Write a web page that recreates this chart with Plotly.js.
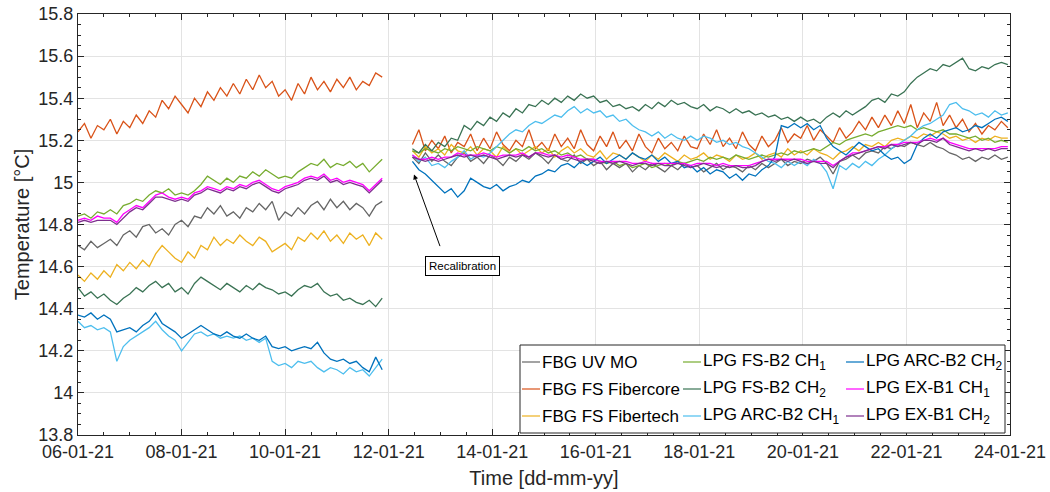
<!DOCTYPE html>
<html>
<head>
<meta charset="utf-8">
<script src="https://cdn.plot.ly/plotly-3.0.1.min.js"></script>
<style>html,body{margin:0;padding:0;background:#fff;}#chart{width:1050px;height:492px;}</style>
</head>
<body>
<div id="chart"></div>
<script>
// Sampling: left segment starts 06-01-21 00:00, right segment starts 12-01-21 11:00, 3-hour step
const leftStart = '2021-01-06T00:00:00Z';
const rightStart = '2021-01-12T11:00:00Z';
const stepHours = 3;
const gapTime = '2021-01-12 05:00';

const seriesNames = ['FBG UV MO','FBG FS Fibercore','FBG FS Fibertech','LPG FS-B2 CH<sub>1</sub>','LPG FS-B2 CH<sub>2</sub>','LPG ARC-B2 CH<sub>1</sub>','LPG ARC-B2 CH<sub>2</sub>','LPG EX-B1 CH<sub>1</sub>','LPG EX-B1 CH<sub>2</sub>'];
const seriesColors = ['#666666','#D95319','#EDB120','#77AC30','#3A7354','#4DBEEE','#0072BD','#FF00FF','#7E2F8E'];

// FBG UV MO
const uvMoL = [14.70,14.68,14.72,14.69,14.71,14.73,14.70,14.75, 14.77,14.74,14.79,14.80,14.76,14.78,14.75,14.80,
  14.82,14.79,14.84,14.83,14.88,14.85,14.89,14.84, 14.86,14.83,14.88,14.86,14.90,14.87,14.91,14.82,
  14.86,14.84,14.88,14.85,14.89,14.91,14.87,14.92, 14.88,14.91,14.87,14.90,14.88,14.84,14.89,14.91];
const uvMoR = [15.12,15.09,15.14,15.10, 15.13,15.10,15.08,15.12, 15.14,15.10,15.12,15.09, 15.13,15.11,15.08,15.12,
  15.10,15.13,15.11,15.14, 15.12,15.09,15.13,15.11, 15.10,15.13,15.09,15.11, 15.08,15.10,15.06,15.09,
  15.07,15.09,15.05,15.08, 15.06,15.09,15.07,15.05, 15.08,15.06,15.09,15.07, 15.08,15.05,15.07,15.09,
  15.06,15.08,15.07,15.05, 15.08,15.06,15.09,15.07, 15.09,15.11,15.08,15.10, 15.09,15.11,15.10,15.12,
  15.09,15.04,15.10,15.11, 15.13,15.11,15.14,15.15, 15.14,15.17,15.16,15.18, 15.17,15.19,15.18,15.17,
  15.19,15.17,15.16,15.14, 15.13,15.11,15.12,15.10, 15.12,15.11,15.13,15.11, 15.12];

// FBG FS Fibercore
const fibercoreL = [15.24,15.28,15.21,15.27,15.25,15.30,15.23,15.29, 15.26,15.32,15.28,15.34,15.31,15.39,15.35,15.41,
  15.37,15.33,15.40,15.36,15.43,15.39,15.45,15.41, 15.47,15.42,15.49,15.44,15.51,15.45,15.48,15.41,
  15.44,15.39,15.47,15.42,15.50,15.44,15.48,15.43, 15.49,15.45,15.50,15.44,15.48,15.46,15.52,15.50];
const fibercoreR = [15.18,15.25,15.15,15.20, 15.16,15.22,15.14,15.19, 15.17,15.23,15.15,15.21, 15.16,15.24,15.18,15.15,
  15.20,15.17,15.25,15.16, 15.19,15.15,15.23,15.17, 15.21,15.16,15.25,15.18, 15.15,15.22,15.17,15.24,
  15.16,15.20,15.15,15.23, 15.17,15.14,15.21,15.16, 15.19,15.15,15.22,15.17, 15.16,15.23,15.18,15.25,
  15.17,15.21,15.16,15.24, 15.18,15.15,15.22,15.17, 15.20,15.26,15.19,15.23, 15.21,15.27,15.20,15.25,
  15.22,15.19,15.26,15.21, 15.24,15.29,15.25,15.31, 15.26,15.32,15.27,15.34, 15.28,15.37,15.26,15.33,
  15.29,15.38,15.27,15.32, 15.26,15.30,15.24,15.28, 15.23,15.27,15.25,15.29, 15.26];

// FBG FS Fibertech
const fibertechL = [14.56,14.53,14.57,14.54,14.58,14.55,14.61,14.58, 14.62,14.59,14.63,14.60,14.66,14.70,14.67,14.64,
  14.62,14.67,14.64,14.70,14.68,14.74,14.70,14.73, 14.71,14.75,14.72,14.70,14.74,14.72,14.67,14.69,
  14.71,14.68,14.74,14.72,14.76,14.73,14.77,14.72, 14.75,14.71,14.76,14.73,14.75,14.70,14.76,14.73];
const fibertechR = [15.15,15.12,15.17,15.14, 15.16,15.13,15.18,15.15, 15.14,15.17,15.13,15.16, 15.15,15.12,15.17,15.14,
  15.16,15.13,15.15,15.17, 15.14,15.16,15.12,15.15, 15.17,15.14,15.16,15.13, 15.12,15.15,15.11,15.14,
  15.13,15.11,15.14,15.12, 15.10,15.13,15.11,15.14, 15.12,15.10,15.13,15.11, 15.12,15.14,15.11,15.13,
  15.12,15.10,15.13,15.11, 15.12,15.14,15.11,15.13, 15.14,15.12,15.16,15.13, 15.15,15.13,15.16,15.14,
  15.13,15.11,15.14,15.15, 15.17,15.15,15.18,15.17, 15.19,15.17,15.20,15.21, 15.20,15.22,15.21,15.23,
  15.22,15.24,15.23,15.21, 15.22,15.20,15.21,15.19, 15.21,15.20,15.22,15.21, 15.21];

// LPG FS-B2 CH1
const fsB2Ch1L = [14.84,14.85,14.83,14.86,14.85,14.87,14.85,14.89, 14.90,14.92,14.91,14.94,14.96,14.95,14.97,14.94,
  14.95,14.94,14.96,14.99,15.03,15.01,14.99,15.02, 15.00,15.03,15.02,15.05,15.03,15.06,15.04,15.02,
  15.03,15.02,15.05,15.07,15.09,15.08,15.11,15.07, 15.09,15.08,15.10,15.07,15.09,15.05,15.08,15.11];
const fsB2Ch1R = [15.15,15.14,15.16,15.15, 15.14,15.16,15.15,15.17, 15.16,15.15,15.17,15.16, 15.15,15.17,15.16,15.14,
  15.16,15.15,15.17,15.15, 15.16,15.14,15.15,15.13, 15.14,15.12,15.13,15.11, 15.11,15.10,15.09,15.10,
  15.08,15.09,15.07,15.08, 15.09,15.07,15.08,15.09, 15.08,15.10,15.09,15.10, 15.11,15.10,15.12,15.11,
  15.12,15.11,15.13,15.12, 15.11,15.12,15.13,15.12, 15.13,15.14,15.13,15.15, 15.14,15.15,15.16,15.15,
  15.17,15.19,15.18,15.20, 15.21,15.22,15.23,15.22, 15.24,15.25,15.26,15.27, 15.26,15.27,15.25,15.26,
  15.25,15.24,15.25,15.23, 15.23,15.22,15.21,15.22, 15.20,15.21,15.19,15.20, 15.19];

// LPG FS-B2 CH2
const fsB2Ch2L = [14.50,14.46,14.48,14.45,14.47,14.44,14.42,14.45, 14.47,14.50,14.48,14.51,14.53,14.50,14.52,14.48,
  14.50,14.47,14.52,14.55,14.53,14.51,14.49,14.52, 14.50,14.48,14.51,14.49,14.52,14.50,14.49,14.47,
  14.48,14.46,14.49,14.51,14.50,14.52,14.48,14.46, 14.47,14.44,14.45,14.43,14.42,14.44,14.41,14.45];
const fsB2Ch2R = [15.16,15.14,15.18,15.15, 15.19,15.17,15.21,15.20, 15.27,15.25,15.29,15.27, 15.31,15.29,15.33,15.31,
  15.35,15.33,15.37,15.36, 15.39,15.37,15.40,15.38, 15.41,15.39,15.42,15.40, 15.41,15.38,15.39,15.36,
  15.37,15.35,15.36,15.34, 15.37,15.35,15.38,15.36, 15.39,15.37,15.38,15.36, 15.35,15.37,15.34,15.36,
  15.35,15.33,15.35,15.33, 15.34,15.32,15.33,15.31, 15.32,15.30,15.31,15.29, 15.31,15.29,15.30,15.28,
  15.31,15.33,15.31,15.34, 15.32,15.34,15.36,15.39, 15.40,15.38,15.42,15.41, 15.43,15.47,15.50,15.52,
  15.54,15.53,15.56,15.55, 15.57,15.59,15.54,15.53, 15.55,15.54,15.56,15.57, 15.56];

// LPG ARC-B2 CH1
const arcB2Ch1L = [14.34,14.31,14.32,14.30,14.31,14.29,14.15,14.22, 14.25,14.27,14.29,14.31,14.34,14.30,14.27,14.25,
  14.20,14.24,14.28,14.29,14.27,14.28,14.26,14.27, 14.26,14.27,14.25,14.26,14.24,14.26,14.15,14.13,
  14.14,14.12,14.15,14.14,14.15,14.12,14.10,14.12, 14.11,14.09,14.12,14.10,14.11,14.08,14.12,14.16];
const arcB2Ch1R = [15.13,15.10,15.12,15.08, 15.09,15.07,15.10,15.12, 15.15,15.11,15.13,15.12, 15.14,15.17,15.20,15.23,
  15.25,15.24,15.27,15.29, 15.28,15.30,15.32,15.31, 15.34,15.36,15.33,15.35, 15.33,15.34,15.31,15.32,
  15.29,15.30,15.27,15.25, 15.24,15.22,15.24,15.21, 15.23,15.21,15.20,15.22, 15.20,15.22,15.21,15.19,
  15.20,15.18,15.19,15.17, 15.16,15.14,15.12,15.10, 15.09,15.07,15.10,15.08, 15.10,15.08,15.11,15.09,
  15.05,14.97,15.08,15.06, 15.09,15.07,15.10,15.08, 15.11,15.13,15.16,15.18, 15.20,15.22,15.25,15.27,
  15.28,15.30,15.32,15.37, 15.38,15.35,15.34,15.32, 15.33,15.31,15.34,15.32, 15.33];

// LPG ARC-B2 CH2
const arcB2Ch2L = [14.37,14.36,14.38,14.35,14.37,14.35,14.29,14.30, 14.31,14.29,14.32,14.34,14.38,14.33,14.31,14.29,
  14.26,14.28,14.30,14.32,14.30,14.28,14.27,14.29, 14.27,14.26,14.28,14.26,14.25,14.27,14.22,14.21,
  14.22,14.20,14.21,14.22,14.21,14.24,14.19,14.16, 14.15,14.16,14.14,14.15,14.12,14.10,14.17,14.11];
const arcB2Ch2R = [15.10,15.06,15.04,15.01, 14.98,14.95,14.97,14.93, 14.96,15.02,15.00,14.98, 14.97,14.99,14.96,14.98,
  14.99,15.01,15.00,15.03, 15.04,15.06,15.05,15.08, 15.09,15.07,15.10,15.08, 15.10,15.12,15.09,15.11,
  15.13,15.11,15.14,15.12, 15.11,15.13,15.10,15.12, 15.09,15.10,15.07,15.08, 15.05,15.07,15.04,15.06,
  15.05,15.02,15.04,15.01, 15.04,15.03,15.06,15.08, 15.12,15.27,15.26,15.28, 15.26,15.28,15.25,15.27,
  15.21,15.17,15.15,15.13, 15.16,15.19,15.17,15.15, 15.16,15.13,15.11,15.12, 15.09,15.11,15.18,15.21,
  15.23,15.21,15.24,15.25, 15.26,15.24,15.25,15.27, 15.26,15.28,15.30,15.31, 15.29];

// LPG EX-B1 CH1
const exB1Ch1L = [14.82,14.83,14.82,14.84,14.83,14.83,14.81,14.85, 14.87,14.89,14.88,14.91,14.94,14.95,14.93,14.92,
  14.93,14.92,14.95,14.96,14.98,14.97,14.96,14.98, 14.97,14.99,14.98,15.00,15.01,14.99,14.97,14.96,
  14.98,14.99,15.00,15.02,15.03,15.02,15.04,15.01, 15.02,15.00,15.01,15.00,14.99,14.96,14.99,15.02];
const exB1Ch1R = [15.13,15.11,15.11,15.12, 15.11,15.12,15.12,15.14, 15.13,15.13,15.13,15.14, 15.13,15.12,15.13,15.13,
  15.13,15.14,15.12,15.14, 15.14,15.13,15.13,15.12, 15.13,15.12,15.11,15.11, 15.11,15.10,15.10,15.10,
  15.10,15.10,15.09,15.09, 15.10,15.09,15.09,15.09, 15.09,15.09,15.09,15.08, 15.09,15.09,15.09,15.08,
  15.09,15.08,15.08,15.08, 15.08,15.09,15.10,15.11, 15.11,15.11,15.11,15.11, 15.11,15.10,15.10,15.10,
  15.10,15.08,15.10,15.12, 15.14,15.14,15.15,15.16, 15.17,15.17,15.18,15.18, 15.19,15.19,15.19,15.20,
  15.21,15.20,15.21,15.19, 15.18,15.17,15.16,15.16, 15.16,15.16,15.16,15.17, 15.17];

// LPG EX-B1 CH2
const exB1Ch2L = [14.81,14.82,14.81,14.82,14.82,14.82,14.80,14.83, 14.86,14.88,14.87,14.90,14.93,14.93,14.92,14.91,
  14.92,14.91,14.94,14.95,14.97,14.96,14.95,14.97, 14.96,14.98,14.97,14.99,15.00,14.98,14.96,14.95,
  14.97,14.98,14.99,15.01,15.02,15.01,15.03,15.00, 15.01,14.99,15.00,14.99,14.98,14.95,14.98,15.01];
const exB1Ch2R = [15.12,15.11,15.10,15.11, 15.10,15.11,15.12,15.13, 15.12,15.13,15.12,15.13, 15.12,15.11,15.12,15.13,
  15.12,15.13,15.12,15.14, 15.13,15.12,15.13,15.11, 15.12,15.11,15.10,15.11, 15.10,15.09,15.10,15.09,
  15.10,15.09,15.08,15.09, 15.09,15.08,15.09,15.08, 15.08,15.09,15.08,15.07, 15.08,15.09,15.08,15.07,
  15.08,15.07,15.08,15.07, 15.07,15.08,15.10,15.11, 15.10,15.11,15.10,15.11, 15.10,15.09,15.10,15.09,
  15.09,15.07,15.10,15.12, 15.13,15.14,15.15,15.16, 15.17,15.16,15.18,15.17, 15.18,15.19,15.18,15.20,
  15.20,15.19,15.21,15.18, 15.17,15.16,15.15,15.16, 15.15,15.16,15.15,15.16, 15.16];

const leftSeries = [uvMoL, fibercoreL, fibertechL, fsB2Ch1L, fsB2Ch2L, arcB2Ch1L, arcB2Ch2L, exB1Ch1L, exB1Ch2L];
const rightSeries = [uvMoR, fibercoreR, fibertechR, fsB2Ch1R, fsB2Ch2R, arcB2Ch1R, arcB2Ch2R, exB1Ch1R, exB1Ch2R];

function timeAxis(startIso, n) {
  const t0 = Date.parse(startIso);
  const out = [];
  for (let i = 0; i < n; i++) {
    out.push(new Date(t0 + i * stepHours * 3600000).toISOString().slice(0, 16).replace('T', ' '));
  }
  return out;
}

const traces = seriesNames.map((name, k) => {
  const L = leftSeries[k], R = rightSeries[k];
  const x = timeAxis(leftStart, L.length).concat([gapTime]).concat(timeAxis(rightStart, R.length));
  const y = L.concat([null]).concat(R);
  return {
    type: 'scatter', mode: 'lines', name: name, x: x, y: y,
    line: {color: seriesColors[k], width: 1.3},
    connectgaps: false, showlegend: false
  };
});

// Plot-area geometry (pixels) used to place the hand-built legend box
const M = {l: 78, r: 40, t: 14, b: 57};
const W = 1050, H = 492;
const PW = W - M.l - M.r, PH = H - M.t - M.b;
const px = v => (v - M.l) / PW;
const py = v => (H - M.b - v) / PH;

const FONT = 'Liberation Sans, Arial, Helvetica, sans-serif';
const legendCols = [{line: 522, text: 541}, {line: 683, text: 702}, {line: 846, text: 865}];
const legendRows = [362, 389, 416];
const shapes = [
  {type: 'rect', xref: 'paper', yref: 'paper', x0: px(520), x1: px(1005), y0: py(433), y1: py(345),
   line: {color: '#262626', width: 1}, fillcolor: '#ffffff', layer: 'above'}
];
const annotations = [];
seriesNames.forEach((name, k) => {
  const c = legendCols[Math.floor(k / 3)], r = legendRows[k % 3];
  shapes.push({type: 'line', xref: 'paper', yref: 'paper', x0: px(c.line), x1: px(c.line + 18), y0: py(r), y1: py(r),
    line: {color: seriesColors[k], width: 1.2}, layer: 'above'});
  annotations.push({xref: 'paper', yref: 'paper', x: px(c.text), y: py(r), xanchor: 'left', yanchor: 'middle',
    text: name, showarrow: false, font: {family: FONT, size: 17, color: '#000000'}, borderpad: 0});
});
annotations.push(
  {x: '2021-01-12 11:44', y: 15.038, xref: 'x', yref: 'y', text: ' ', showarrow: true,
   arrowhead: 2, arrowsize: 1, arrowwidth: 1, arrowcolor: '#000000', ax: 29, ay: 80, standoff: 0},
  {x: '2021-01-13 10:14', y: 14.602, xref: 'x', yref: 'y', text: 'Recalibration', showarrow: false,
   font: {family: FONT, size: 11.5, color: '#000000'},
   bgcolor: '#ffffff', bordercolor: '#000000', borderwidth: 1, borderpad: 3}
);

const axisCommon = {
  showline: true, linecolor: '#262626', linewidth: 1, mirror: 'allticks',
  ticks: 'inside', ticklen: 6, tickcolor: '#262626', tickwidth: 1,
  showgrid: true, gridcolor: '#e3e3e3', gridwidth: 1, zeroline: false,
  tickfont: {family: FONT, size: 18, color: '#262626'}
};

const layout = {
  width: W, height: H,
  margin: M,
  paper_bgcolor: '#ffffff', plot_bgcolor: '#ffffff',
  font: {family: FONT, color: '#262626'},
  showlegend: false,
  xaxis: Object.assign({}, axisCommon, {
    type: 'date', range: ['2021-01-06', '2021-01-24'],
    tick0: '2021-01-06', dtick: 2 * 86400000, tickformat: '%d-%m-%y',
    minor: {dtick: 12 * 3600000, ticks: 'inside', ticklen: 3, tickcolor: '#262626', showgrid: false},
    title: {text: 'Time [dd-mm-yy]', font: {size: 20, color: '#262626'}, standoff: 10}
  }),
  yaxis: Object.assign({}, axisCommon, {
    range: [13.8, 15.8], tick0: 13.8, dtick: 0.2,
    minor: {dtick: 0.05, ticks: 'inside', ticklen: 3, tickcolor: '#262626', showgrid: false},
    title: {text: 'Temperature [°C]', font: {size: 20, color: '#262626'}, standoff: 3}
  }),
  shapes: shapes,
  annotations: annotations
};

Plotly.newPlot('chart', traces, layout, {displayModeBar: false, staticPlot: true});
</script>
</body>
</html>
